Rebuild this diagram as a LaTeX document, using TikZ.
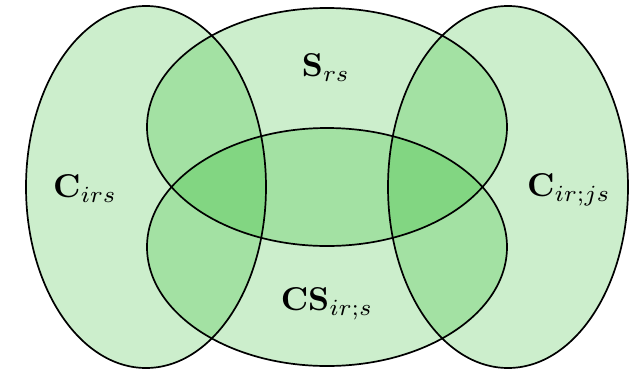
\documentclass[tikz,border=0pt]{standalone}
\usepackage{amsmath,amssymb}
\usepackage{tikz}
\usetikzlibrary{positioning}
\definecolor{colSet}{RGB}{0,172,0}

\begin{document}
\begin{tikzpicture}[x=1pt,y=-1pt,
  setfill/.style={fill=colSet, fill opacity=0.2},
  setline/.style={draw=black, line width=1.7pt},
  lab/.style={scale=3.3, inner sep=0pt}
]
\useasboundingbox (0,0) rectangle (637,370);
% Fills
\fill[setfill] (146,187) ellipse [x radius=120, y radius=181];
\fill[setfill] (508,187) ellipse [x radius=120, y radius=181];
\fill[setfill] (327,127) ellipse [x radius=180, y radius=119];
\fill[setfill] (327,247) ellipse [x radius=180, y radius=119];
% Outlines
\draw[setline] (146,187) ellipse [x radius=120, y radius=181];
\draw[setline] (508,187) ellipse [x radius=120, y radius=181];
\draw[setline] (327,127) ellipse [x radius=180, y radius=119];
\draw[setline] (327,247) ellipse [x radius=180, y radius=119];

% Labels
\node[lab] (cirs) at (85,189) {$\mathbf{C}_{irs}$};
\node[lab] (srs) at (326,68) {$\mathbf{S}_{rs}$};
\node[lab] (csirs) at (327,304) {$\mathbf{CS}_{ir;s}$};
\node[lab] (cirjs) at (569,190) {$\mathbf{C}_{ir;js}$};
\end{tikzpicture}
\end{document}
